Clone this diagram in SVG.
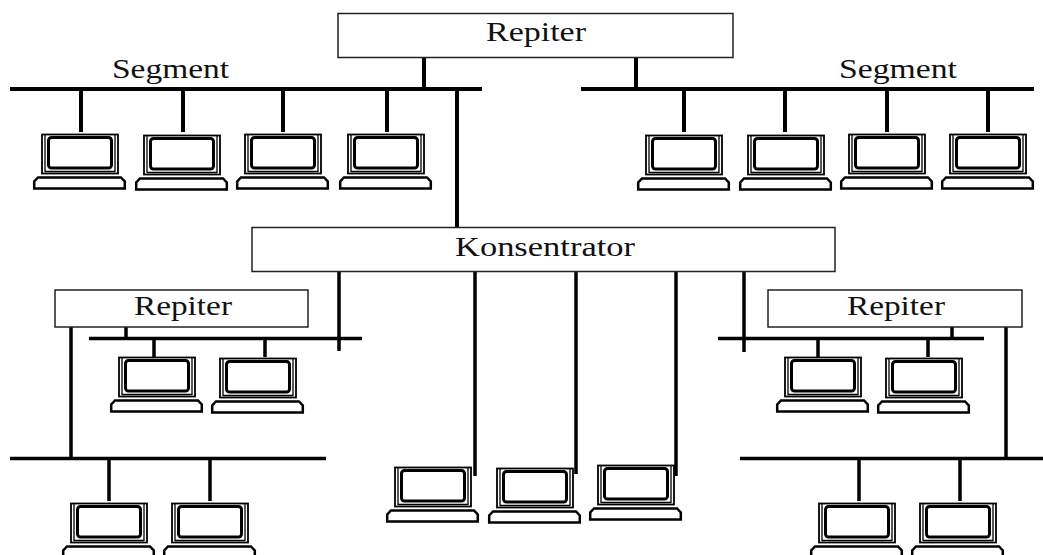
<svg xmlns="http://www.w3.org/2000/svg" width="1043" height="555" viewBox="0 0 1043 555">
<style>
.box{fill:#fff;stroke:#222;stroke-width:1.5}
.t{font-family:"Liberation Serif","Times New Roman",serif;font-size:27px;fill:#111;text-anchor:start}
.w{stroke:#000;stroke-width:4;fill:none}
.n{stroke:#000;stroke-width:3.500;fill:none}
</style>
<defs>
<g id="pc">
<rect x="9" y="0.500" width="76" height="39" fill="#fff" stroke="#000" stroke-width="1.800"/>
<path d="M12 1V38M82 1V38" fill="none" stroke="#000" stroke-width="1.300"/>
<path d="M12 37.500H82" fill="none" stroke="#000" stroke-width="1.500"/>
<rect x="15.500" y="3.500" width="63" height="30.500" rx="3" fill="#fff" stroke="#000" stroke-width="3"/>
<path d="M1.200 54.500V47.500L5 43.500H88L91.800 47.500V54.500Z" fill="#fff" stroke="#000" stroke-width="2.500"/>
</g>
</defs>
<rect width="1043" height="555" fill="#fff"/>
<g id="connectors">
<path class="w" d="M10 89H482M424 57V89M457 89V227M81 89V132M183 89V132M283 89V132M387 89V132"/>
<path class="w" d="M581 89H1034M636 57V89M684 89V132M785 89V132M887 89V132M988 89V132"/>
<path class="n" d="M339 271V351M89 338.500H362M126 327V338M154 338V357M265 338V357"/>
<path class="n" d="M71 327V458M10 458.500H326M109 458V501M210 458V501"/>
<path class="n" d="M475 271V476M576 271V474M676 271V476"/>
<path class="n" d="M744 271V352M718 338.500H984M952 327V338M818 338V357M928 338V357"/>
<path class="n" d="M1006 327V458M740 458.500H1043M859 458V501M960 458V501"/>
</g>
<g id="repiter-top"><rect class="box" x="338" y="13.500" width="395" height="44"/><text class="t" x="486" y="41" textLength="100" lengthAdjust="spacingAndGlyphs">Repiter</text></g>
<g id="konsentrator"><rect class="box" x="252" y="227.500" width="583" height="44"/><text class="t" x="455" y="256" textLength="180" lengthAdjust="spacingAndGlyphs">Konsentrator</text></g>
<g id="repiter-left"><rect class="box" x="55" y="290" width="253" height="37"/><text class="t" x="134" y="315" textLength="98" lengthAdjust="spacingAndGlyphs">Repiter</text></g>
<g id="repiter-right"><rect class="box" x="768" y="290" width="254" height="37"/><text class="t" x="847" y="315" textLength="98" lengthAdjust="spacingAndGlyphs">Repiter</text></g>
<g id="segment-left"><text class="t" x="112" y="78" textLength="117" lengthAdjust="spacingAndGlyphs">Segment</text></g>
<g id="segment-right"><text class="t" x="839" y="78" textLength="118" lengthAdjust="spacingAndGlyphs">Segment</text></g>
<g id="pc-1"><use href="#pc" x="33" y="134"/></g>
<g id="pc-2"><use href="#pc" x="135" y="135"/></g>
<g id="pc-3"><use href="#pc" x="236" y="134"/></g>
<g id="pc-4"><use href="#pc" x="339" y="134"/></g>
<g id="pc-5"><use href="#pc" x="637" y="135"/></g>
<g id="pc-6"><use href="#pc" x="739" y="135"/></g>
<g id="pc-7"><use href="#pc" x="840" y="134"/></g>
<g id="pc-8"><use href="#pc" x="941" y="134"/></g>
<g id="pc-9"><use href="#pc" x="110" y="357"/></g>
<g id="pc-10"><use href="#pc" x="211" y="358"/></g>
<g id="pc-11"><use href="#pc" x="62" y="503"/></g>
<g id="pc-12"><use href="#pc" x="163" y="503"/></g>
<g id="pc-13"><use href="#pc" x="386" y="467"/></g>
<g id="pc-14"><use href="#pc" x="488" y="468"/></g>
<g id="pc-15"><use href="#pc" x="589" y="465"/></g>
<g id="pc-16"><use href="#pc" x="776" y="357"/></g>
<g id="pc-17"><use href="#pc" x="877" y="358"/></g>
<g id="pc-18"><use href="#pc" x="810" y="503"/></g>
<g id="pc-19"><use href="#pc" x="911" y="503"/></g>
</svg>
